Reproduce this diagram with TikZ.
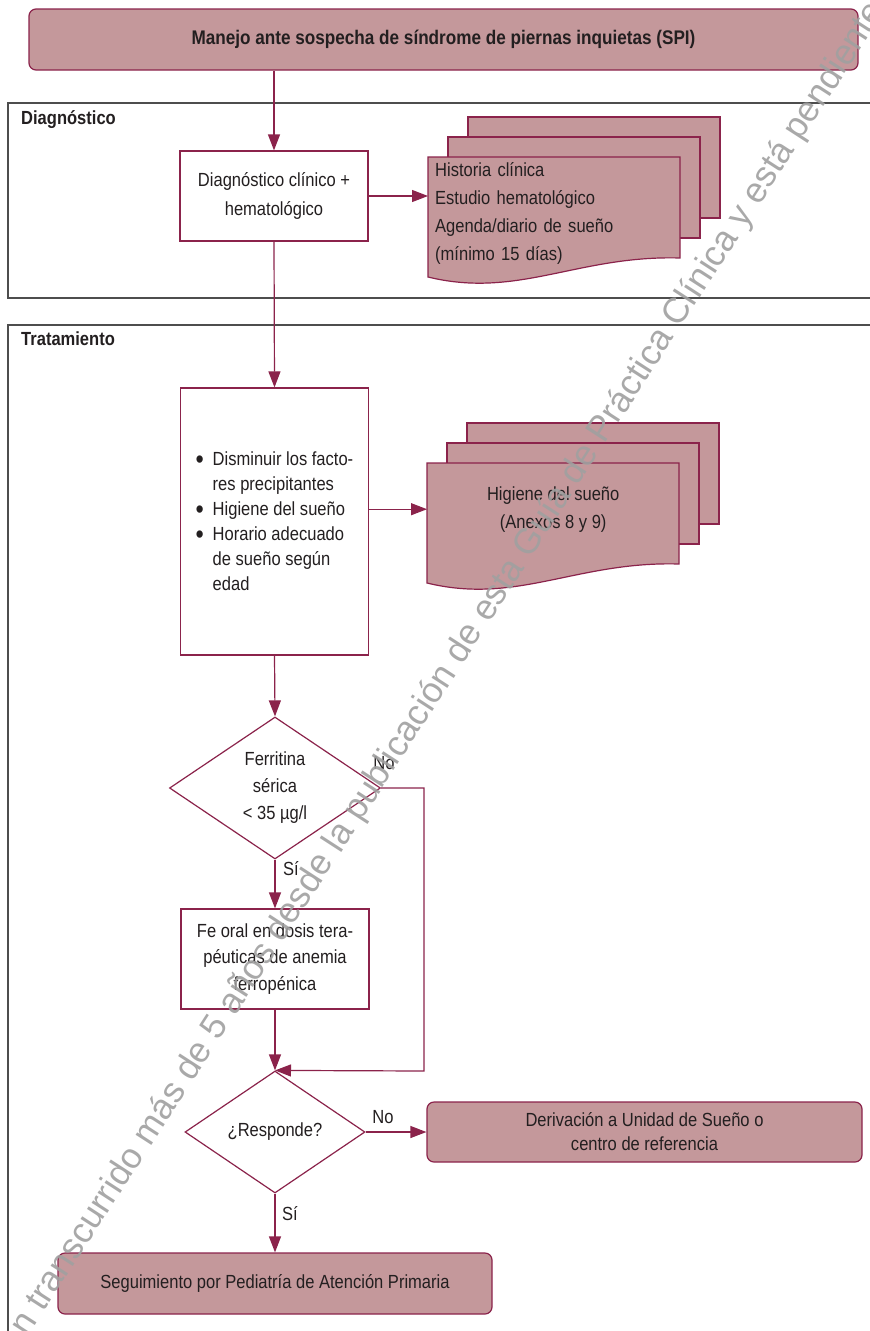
\documentclass[tikz,border=0pt]{standalone}
\usepackage{fontspec}
\setmainfont{Liberation Sans}[FakeStretch=0.87]
\newfontfamily\wmfont{Liberation Sans}
\usetikzlibrary{arrows.meta,shapes.geometric}
\definecolor{granate}{RGB}{139,35,75}
\definecolor{rosa}{RGB}{196,152,155}
\definecolor{texto}{RGB}{35,31,32}
\definecolor{marco}{RGB}{77,77,77}
\definecolor{marca}{RGB}{160,160,160}

\begin{document}
\begin{tikzpicture}[x=1pt, y=-1pt,
    every node/.style={text=texto, font=\fontsize{19}{27}\selectfont},
    caja/.style={draw=granate, line width=1.2pt, fill=white, align=center, inner sep=0pt},
    terminal/.style={caja, fill=rosa, rounded corners=7pt},
    decision/.style={diamond, aspect=1.5, draw=granate, line width=1.2pt, fill=white, align=center, inner sep=0pt},
    flecha/.style={draw=granate, line width=1.2pt, -{Triangle[length=16pt,width=12pt]}},
    carril/.style={draw=marco, line width=1.4pt},
    documento/.style={draw=granate, line width=1.2pt, fill=rosa}]
			\useasboundingbox (0,0) rectangle (870,1331);
			\clip (0,0) rectangle (870,1331);
			
			% Lanes
			\draw[carril] (8,103) rectangle (900,298);
			\draw[carril] (8,325) rectangle (900,1400);
			\node[anchor=west, inner sep=0pt, font=\bfseries\fontsize{19}{27}\selectfont] (lblDiag) at (21,120) {Diagnóstico};
			\node[anchor=west, inner sep=0pt, font=\bfseries\fontsize{19}{27}\selectfont] (lblTrat) at (21,339) {Tratamiento};
			
			% Document stacks
			\foreach \x/\y in {428/157, 427/463} {
				\draw[documento] (\x+40,\y-40) rectangle (\x+292,\y+61);
				\draw[documento] (\x+20,\y-20) rectangle (\x+272,\y+81);
				\draw[documento] (\x,\y+120) -- (\x,\y) -- (\x+252,\y) -- (\x+252,\y+101) .. controls (\x+150,\y+98) and (\x+90,\y+142) .. (\x,\y+120) -- cycle;
			}
			
			% Boxes
			\node[terminal, minimum width=829pt, minimum height=61pt, font=\bfseries\fontsize{19.7}{27}\selectfont] (titulo) at (443.5,39.5) {Manejo ante sospecha de síndrome de piernas inquietas (SPI)};
			\node[caja, minimum width=188pt, minimum height=90pt, font=\fontsize{19}{29}\selectfont] (diag) at (274,196) {Diagnóstico clínico +\\hematológico};
			\node[anchor=north west, minimum width=252pt, minimum height=113pt, text width=238pt, inner xsep=7pt, inner ysep=0pt, align=left, font=\fontsize{19}{28}\selectfont] (docA) at (428,157) {Historia clínica\\Estudio hematológico\\Agenda/diario de sueño\\(mínimo 15 días)};
			\node[caja, minimum width=188pt, minimum height=267pt, align=left, font=\fontsize{19}{25}\selectfont] (medidas) at (274.5,521.5) {\makebox[17pt][l]{\raisebox{-3pt}{\fontsize{27}{25}\selectfont\textbullet}}Disminuir los facto-\\\hspace*{17pt}res precipitantes\\\makebox[17pt][l]{\raisebox{-3pt}{\fontsize{27}{25}\selectfont\textbullet}}Higiene del sueño\\\makebox[17pt][l]{\raisebox{-3pt}{\fontsize{27}{25}\selectfont\textbullet}}Horario adecuado\\\hspace*{17pt}de sueño según\\\hspace*{17pt}edad};
			\node[anchor=north west, minimum width=252pt, minimum height=92pt, align=center, inner sep=0pt, font=\fontsize{19}{28}\selectfont] (docB) at (427,463) {Higiene del sueño\\(Anexos 8 y 9)};
			\node[decision, minimum width=211pt, minimum height=142pt] (ferritina) at (275,788) {Ferritina\\sérica\\< 35 µg/l};
			\node[caja, minimum width=188pt, minimum height=100pt, font=\fontsize{19}{26.5}\selectfont] (hierro) at (275,959) {Fe oral en dosis tera-\\péuticas de anemia\\ferropénica};
			\node[decision, minimum width=180pt, minimum height=122pt] (responde) at (275,1132) {¿Responde?};
			\node[terminal, minimum width=435pt, minimum height=60pt, font=\fontsize{19}{24}\selectfont] (derivacion) at (644.5,1132) {Derivación a Unidad de Sueño o\\centro de referencia};
			\node[terminal, minimum width=434pt, minimum height=61pt] (seguimiento) at (275,1283.5) {Seguimiento por Pediatría de Atención Primaria};
			
			% Branch labels
			\node (noFer) at (384,763) {No};
			\node (siFer) at (291,869) {Sí};
			\node (noResp) at (383,1117) {No};
			\node (siResp) at (290,1214) {Sí};
			
			% Connectors
			\draw[flecha] (diag.north |- titulo.south) -- (diag.north);
			\draw[flecha] (diag.east) -- (diag.east -| docA.west);
			\draw[flecha] (diag.south) -- (medidas.north);
			\draw[flecha] (medidas.east |- docB.west) -- (docB.west);
			\draw[flecha] (medidas.south) -- (ferritina.north);
			\draw[flecha] (ferritina.south) -- (hierro.north);
			\coordinate (vuelta) at (424,1071);
			\draw[flecha] (ferritina.east) -| (vuelta) -- (responde.north);
			\draw[flecha] (hierro.south) -- (responde.north);
			\draw[flecha] (responde.east) -- (derivacion.west);
			\draw[flecha] (responde.south) -- (seguimiento.north);
			
			% Watermark
			\node[font=\wmfont\fontsize{35.5}{36}\selectfont, text=marca, opacity=0.9, rotate=57.1, anchor=base west, inner sep=0pt] (marcaAgua) at (2.4,1376) {Han transcurrido más de 5 años desde la publicación de esta Guía de Práctica Clínica y está pendiente su actualización};
			
		\end{tikzpicture}
\end{document}
